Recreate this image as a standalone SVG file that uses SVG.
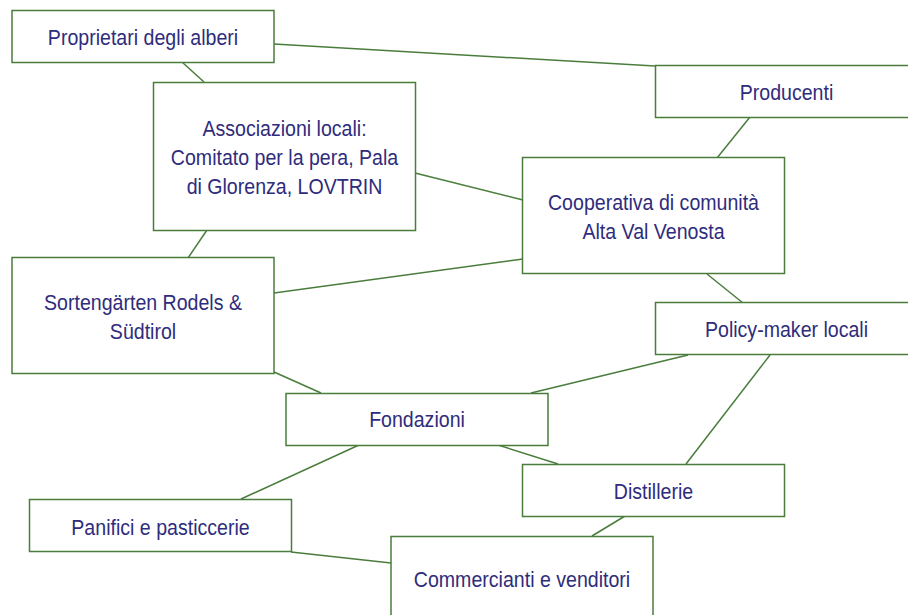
<svg xmlns="http://www.w3.org/2000/svg" width="908" height="615" viewBox="0 0 908 615">
<style>
.box{fill:#fff;stroke:#4a7d3c;stroke-width:1.5}
.ln{stroke:#4a7d3c;stroke-width:1.5;fill:none}
text{font-family:"Liberation Sans",Arial,sans-serif;font-size:22px;fill:#2f2c7c;text-anchor:middle}
</style>
<rect width="908" height="615" fill="#fff"/>
<g id="connectors">
<line class="ln" x1="274" y1="44" x2="655" y2="66"/>
<line class="ln" x1="182" y1="62" x2="204" y2="82"/>
<line class="ln" x1="415" y1="173" x2="523" y2="200"/>
<line class="ln" x1="207" y1="230" x2="188" y2="258"/>
<line class="ln" x1="750" y1="117" x2="717" y2="158"/>
<line class="ln" x1="274" y1="293" x2="523" y2="259"/>
<line class="ln" x1="707" y1="274" x2="743" y2="303"/>
<line class="ln" x1="274" y1="372" x2="321" y2="393"/>
<line class="ln" x1="688" y1="355" x2="531" y2="393"/>
<line class="ln" x1="770" y1="355" x2="686" y2="464"/>
<line class="ln" x1="359" y1="445" x2="241" y2="499"/>
<line class="ln" x1="498" y1="445" x2="558" y2="464"/>
<line class="ln" x1="625" y1="516" x2="592" y2="536"/>
<line class="ln" x1="291" y1="552" x2="391" y2="563"/>
</g>
<g id="proprietari"><rect class="box" x="12" y="10.5" width="262" height="52"/><text transform="matrix(0.89 0 0 1 143 45)">Proprietari degli alberi</text></g>
<g id="associazioni"><rect class="box" x="153.5" y="82.5" width="262" height="148"/><text transform="matrix(0.89 0 0 1 284.5 136)">Associazioni locali:</text><text transform="matrix(0.89 0 0 1 284.5 165)">Comitato per la pera, Pala</text><text transform="matrix(0.89 0 0 1 284.5 194)">di Glorenza, LOVTRIN</text></g>
<g id="producenti"><rect class="box" x="655.5" y="65.5" width="262" height="52"/><text transform="matrix(0.89 0 0 1 786.5 100)">Producenti</text></g>
<g id="cooperativa"><rect class="box" x="522.5" y="157.5" width="262" height="116"/><text transform="matrix(0.89 0 0 1 653.5 210)">Cooperativa di comunità</text><text transform="matrix(0.89 0 0 1 653.5 239)">Alta Val Venosta</text></g>
<g id="sortengarten"><rect class="box" x="12" y="257.5" width="262" height="116"/><text transform="matrix(0.89 0 0 1 143 310)">Sortengärten Rodels &amp;</text><text transform="matrix(0.89 0 0 1 143 339)">Südtirol</text></g>
<g id="policy"><rect class="box" x="655.5" y="302.5" width="262" height="52"/><text transform="matrix(0.89 0 0 1 786.5 337)">Policy-maker locali</text></g>
<g id="fondazioni"><rect class="box" x="286" y="393.5" width="262" height="52"/><text transform="matrix(0.89 0 0 1 417 427)">Fondazioni</text></g>
<g id="distillerie"><rect class="box" x="522.5" y="464.5" width="262" height="52"/><text transform="matrix(0.89 0 0 1 653.5 499)">Distillerie</text></g>
<g id="panifici"><rect class="box" x="29.5" y="499.5" width="262" height="52"/><text transform="matrix(0.89 0 0 1 160.5 535)">Panifici e pasticcerie</text></g>
<g id="commercianti"><rect class="box" x="391" y="536.5" width="262" height="116"/><text transform="matrix(0.89 0 0 1 522 587)">Commercianti e venditori</text></g>
</svg>
